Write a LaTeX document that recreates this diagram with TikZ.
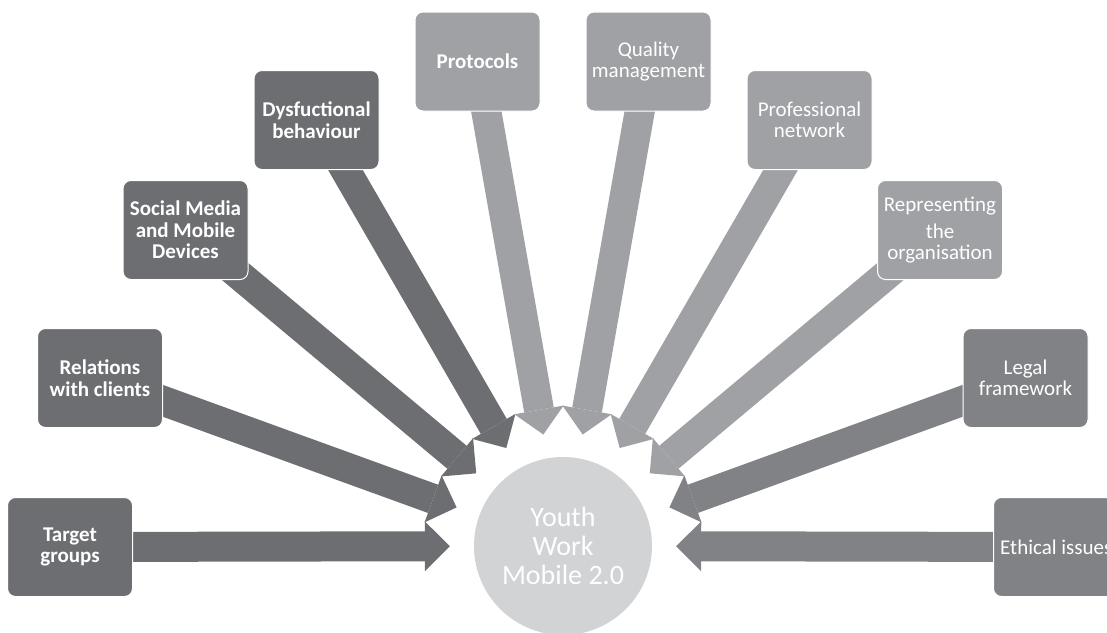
\documentclass[tikz,border=0pt]{standalone}
\usepackage{fontspec}
\setmainfont{Carlito}
\usepackage{tikz}
\usetikzlibrary{arrows.meta}
\usetikzlibrary{backgrounds}

\definecolor{darkgray}{HTML}{6D6E71}
\definecolor{lightgray}{HTML}{A0A1A5}
\definecolor{midgray}{HTML}{808285}
\definecolor{hubgray}{HTML}{D1D3D4}

\begin{document}
\begin{tikzpicture}[x=1pt,y=-1pt,
                    >={Triangle[length=25pt,width=50pt,line width=0pt]},
                    fat/.style={->,line width=30pt,shorten >=24pt}]
\tikzstyle{box}=[rectangle,rounded corners=8pt,draw=white,line width=1pt,
                 minimum width=125pt,minimum height=99pt,inner sep=2pt,
                 text=white,align=center]
\tikzstyle{boldtext}=[font=\fontsize{21}{21.5}\selectfont\bfseries]
\tikzstyle{plaintext}=[font=\fontsize{21}{21}\selectfont]
\useasboundingbox (0,0) rectangle (1107,632);

% the hub
\node[circle,fill=hubgray,minimum size=178pt,text=white,align=center,
      font=\fontsize{28}{29}\selectfont] (hub) at (563,546)
      {Youth\\Work\\Mobile 2.0};

% left side
\path
node[box,boldtext,fill=darkgray] (target) at (70,547) {Target\\groups}
node[box,boldtext,fill=darkgray] (relations) at (100,378) {Relations\\with clients}
node[box,boldtext,fill=darkgray] (social) at (185.5,230) {Social Media\\and Mobile\\Devices}
node[box,boldtext,fill=darkgray] (dysf) at (316.5,120) {Dysfuctional\\behaviour}
node[box,boldtext,fill=lightgray] (protocols) at (477.5,61.5) {Protocols};

% right side
\path
node[box,plaintext,fill=lightgray] (quality) at (648.5,61.5) {Quality\\management}
node[box,plaintext,fill=lightgray] (network) at (809.5,120) {Professional\\network}
node[box,plaintext,fill=lightgray] (organisation) at (940,230) {Representing\\[6pt]the\\organisation}
node[box,plaintext,fill=midgray] (legal) at (1025.5,378) {Legal\\framework}
node[box,fill=midgray] (ethical) at (1056,547) {};
\node[plaintext,text=white,anchor=west,inner sep=0pt] (ethicaltext) at (1000,547) {Ethical issues};

\begin{scope}[on background layer]
\draw[fat,darkgray] (target.center) -- (hub);
\draw[fat,darkgray] (relations.center) -- (hub);
\draw[fat,darkgray] (social.center) -- (hub);
\draw[fat,darkgray] (dysf.center) -- (hub);
\draw[fat,lightgray] (protocols.center) -- (hub);
\draw[fat,lightgray] (quality.center) -- (hub);
\draw[fat,lightgray] (network.center) -- (hub);
\draw[fat,lightgray] (organisation.center) -- (hub);
\draw[fat,midgray] (legal.center) -- (hub);
\draw[fat,midgray] (ethical.center) -- (hub);
\end{scope}
\end{tikzpicture}
\end{document}
